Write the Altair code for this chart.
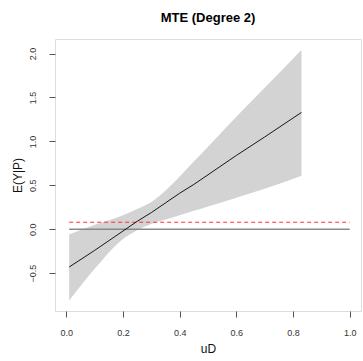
import altair as alt
import pandas as pd

# Band and MTE estimates
uD = [0.01, 0.10, 0.20, 0.25, 0.30, 0.35, 0.40, 0.45, 0.50, 0.60, 0.70, 0.83]
mte = [-0.43, -0.24, -0.02, 0.09, 0.19, 0.30, 0.41, 0.51, 0.62, 0.84, 1.05, 1.33]
upper = [-0.06, 0.05, 0.16, 0.23, 0.31, 0.44, 0.60, 0.77, 0.94, 1.28, 1.61, 2.04]
lower = [-0.81, -0.45, -0.11, -0.01, 0.06, 0.11, 0.16, 0.21, 0.26, 0.36, 0.46, 0.61]

ref_x = [0.01, 1.0]
zero_y = [0.0, 0.0]
ate_y = [0.08, 0.08]

x_ticks = [0.0, 0.2, 0.4, 0.6, 0.8, 1.0]
y_ticks = [-0.5, 0.0, 0.5, 1.0, 1.5, 2.0]

df = pd.DataFrame({"uD": uD, "mte": mte, "upper": upper, "lower": lower})
ref = pd.DataFrame({"uD": ref_x, "zero": zero_y, "ate": ate_y})

xs = alt.Scale(domain=[-0.04, 1.04], nice=False, zero=False)
ys = alt.Scale(domain=[-0.93, 2.165], nice=False, zero=False)

xaxis = alt.Axis(values=x_ticks, format=".1f", title="uD", grid=False, domain=False,
                 tickSize=6, tickColor="#555555", labelFontSize=9, labelColor="#333333",
                 labelPadding=11, titleFontSize=12, titleFontWeight="normal",
                 titleColor="#111111", titlePadding=6, labelFont="Liberation Sans",
                 titleFont="Liberation Sans")
yaxis = alt.Axis(values=y_ticks, format=".1f", title="E(Y|P)", grid=False, domain=False,
                 tickSize=6, tickColor="#555555", labelFontSize=9, labelColor="#333333",
                 labelAngle=270, labelAlign="center", labelBaseline="bottom",
                 labelPadding=12, titleFontSize=12, titleFontWeight="normal",
                 titleColor="#111111", titlePadding=4, labelFont="Liberation Sans",
                 titleFont="Liberation Sans")

band = alt.Chart(df).mark_area(color="#d3d3d3", opacity=1, interpolate="monotone").encode(
    x=alt.X("uD:Q", scale=xs, axis=xaxis),
    y=alt.Y("lower:Q", scale=ys, axis=yaxis),
    y2="upper:Q",
)
line = alt.Chart(df).mark_line(color="#000000", strokeWidth=0.9).encode(
    x=alt.X("uD:Q", scale=xs), y=alt.Y("mte:Q", scale=ys)
)
zero = alt.Chart(ref).mark_line(color="#8a8a8a", strokeWidth=1.6).encode(
    x=alt.X("uD:Q", scale=xs), y=alt.Y("zero:Q", scale=ys)
)
ate = alt.Chart(ref).mark_line(color="#ff3030", strokeWidth=1, strokeDash=[4, 3]).encode(
    x=alt.X("uD:Q", scale=xs), y=alt.Y("ate:Q", scale=ys)
)

chart = alt.layer(band, zero, ate, line).properties(
    width=306, height=272,
    title=alt.TitleParams("MTE (Degree 2)", fontSize=13, fontWeight="bold",
                          font="Liberation Sans", anchor="middle", offset=14, color="#000000"),
    padding={"left": 55, "top": 39, "right": 2, "bottom": 50},
    autosize=alt.AutoSizeParams(type="none"),
).configure_view(stroke="#8c8c8c", strokeWidth=1.2).configure(background="white")

chart.save("out.html", embed_options={"renderer": "svg", "actions": False})
